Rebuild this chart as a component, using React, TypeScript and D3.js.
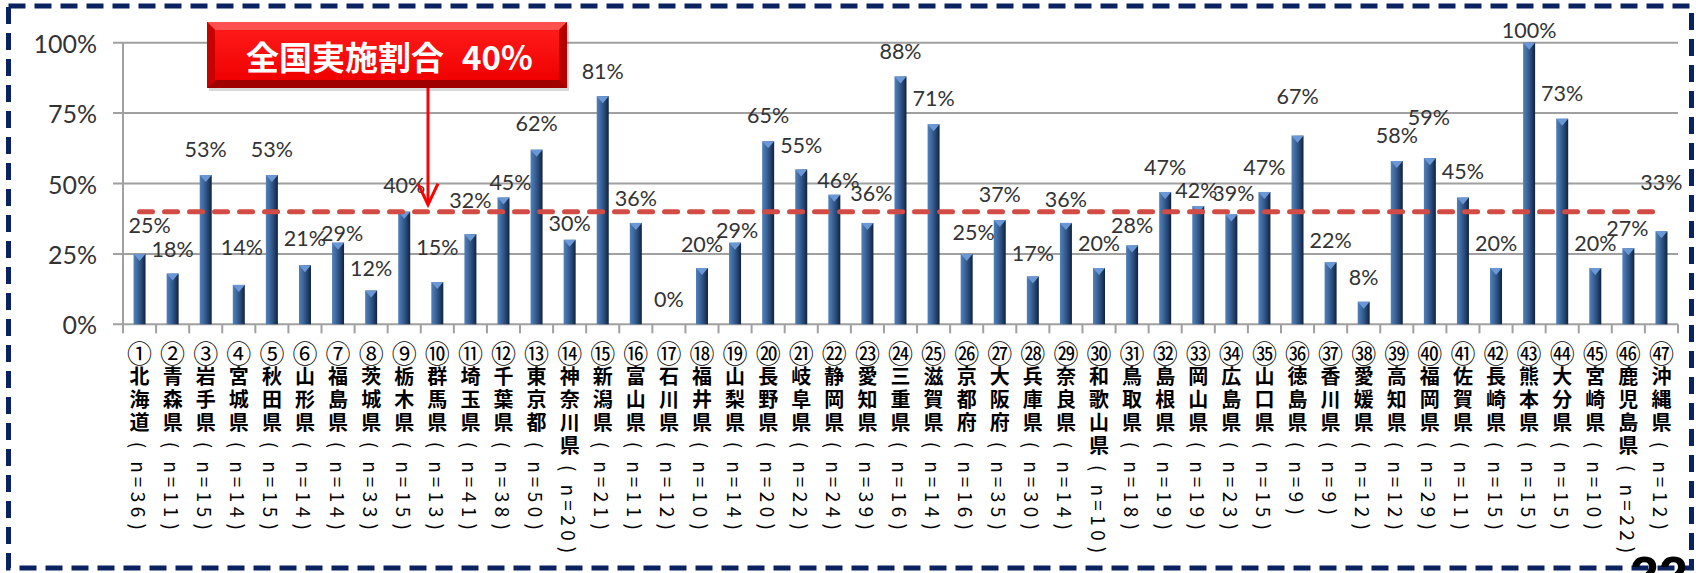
import React from 'react';
import * as d3 from 'd3';

// ---- data ----
const prefectures = ['北海道','青森県','岩手県','宮城県','秋田県','山形県','福島県','茨城県','栃木県','群馬県','埼玉県','千葉県','東京都','神奈川県','新潟県','富山県','石川県','福井県','山梨県','長野県','岐阜県','静岡県','愛知県','三重県','滋賀県','京都府','大阪府','兵庫県','奈良県','和歌山県','鳥取県','島根県','岡山県','広島県','山口県','徳島県','香川県','愛媛県','高知県','福岡県','佐賀県','長崎県','熊本県','大分県','宮崎県','鹿児島県','沖縄県'];
const circledNumbers = Array.from('①②③④⑤⑥⑦⑧⑨⑩⑪⑫⑬⑭⑮⑯⑰⑱⑲⑳㉑㉒㉓㉔㉕㉖㉗㉘㉙㉚㉛㉜㉝㉞㉟㊱㊲㊳㊴㊵㊶㊷㊸㊹㊺㊻㊼');
const sampleSizes = [36,11,15,14,15,14,14,33,15,13,41,38,50,20,21,11,12,10,14,20,22,24,39,16,14,16,35,30,14,10,18,19,19,23,15,9,9,12,12,29,11,15,15,15,10,22,12];
const rates = [25,18,53,14,53,21,29,12,40,15,32,45,62,30,81,36,0,20,29,65,55,46,36,88,71,25,37,17,36,20,28,47,42,39,47,67,22,8,58,59,45,20,100,73,20,27,33];
const yTicks = [0, 25, 50, 75, 100];
const nationalRate = 40;
const calloutTitle = '全国実施割合';
const calloutValue = '40%';
const pageNumber = '22';

// label nudges (layout only): [dx, dy] per category
const labelNudge: [number, number][] = [
  [10,-3],[0,1],[0,0],[3,-12],[0,0],[0,-1],[4,16],[0,3],[0,-1],[0,-9],
  [0,-8],[7,10],[0,-1],[0,9],[0,1],[0,1],[0,1],[0,2],[2,13],[0,0],
  [0,2],[4,11],[4,-4],[0,1],[0,0],[7,4],[0,0],[0,3],[0,2],[0,1],
  [0,6],[0,1],[-2,10],[2,5],[0,1],[0,-14],[0,4],[0,1],[0,0],[-1,-15],
  [0,-1],[0,1],[0,13],[0,0],[0,1],[-1,6],[0,-23],
];

const W = 1696, H = 573;
const X0 = 123, X1 = 1678, Y0 = 324.3, Y100 = 42.7;

export default function App() {
  const idx = prefectures.map((_, i) => i);
  const x = d3.scaleBand<number>().domain(idx).range([X0, X1]).padding(0);
  const y = d3.scaleLinear().domain([0, 100]).range([Y0, Y100]);
  const bw = x.bandwidth();
  const barW = 12;
  const pitch = 23.3;
  const labelTop = 351.7;
  const cjk = "'Noto Sans CJK JP', 'Noto Sans CJK SC', sans-serif";
  const lat = "Lato, 'Open Sans', sans-serif";
  const yLine = y(nationalRate);

  const box = { x: 207, y: 22, w: 360, h: 66 };
  const arrowX = 428;

  return (
    <svg width={W} height={H} style={{ position: 'absolute', left: 0, top: 0, background: '#fff' }}>
      <defs>
        <linearGradient id="barGrad" x1="0" x2="1" y1="0" y2="0">
          <stop offset="0" stopColor="#5080bd" />
          <stop offset="0.3" stopColor="#3f6aa0" />
          <stop offset="0.65" stopColor="#284976" />
          <stop offset="1" stopColor="#11223c" />
        </linearGradient>
        <linearGradient id="boxGrad" x1="0" x2="0" y1="0" y2="1">
          <stop offset="0" stopColor="#ff1a1a" />
          <stop offset="1" stopColor="#f00000" />
        </linearGradient>
      </defs>

      {/* frame */}
      <rect x={8.5} y={6} width={1683} height={562} fill="none" stroke="#0b2260" strokeWidth={5} strokeDasharray="17 9" />

      {/* gridlines */}
      {yTicks.map(t => (
        <g key={t}>
          <line x1={X0 - 10} x2={X1} y1={y(t)} y2={y(t)} stroke="#a0a0a0" strokeWidth={2} />
          <text x={97} y={y(t)} textAnchor="end" dominantBaseline="central" fontFamily={lat} fontSize={25} fill="#333">{t}%</text>
        </g>
      ))}
      <line x1={X0} x2={X0} y1={Y100} y2={Y0} stroke="#a0a0a0" strokeWidth={2} />
      {d3.range(prefectures.length + 1).map(i => {
        const xx = X0 + i * bw;
        return <line key={i} x1={xx} x2={xx} y1={Y0} y2={Y0 + 9} stroke="#a0a0a0" strokeWidth={2} />;
      })}

      {/* bars */}
      {rates.map((v, i) => {
        if (v <= 0) return null;
        const cx = (x(i) as number) + bw / 2;
        const top = y(v);
        return (
          <g key={i}>
            <rect x={cx - barW / 2} y={top} width={barW} height={Y0 - top} fill="url(#barGrad)" />
            <polygon points={`${cx - barW / 2},${top} ${cx + barW / 2},${top} ${cx},${top + 7}`} fill="#6b98d4" />
          </g>
        );
      })}

      {/* national average line */}
      <line x1={X0 + bw / 2} x2={X1 - bw + 8} y1={yLine} y2={yLine} stroke="#d24b45" strokeWidth={5} strokeDasharray="13 12" strokeLinecap="round" />

      {/* value labels */}
      {rates.map((v, i) => {
        const cx = (x(i) as number) + bw / 2;
        const [dx, dy] = labelNudge[i];
        return (
          <text key={i} x={cx + dx} y={y(v) - 26 + dy} textAnchor="middle" dominantBaseline="central" fontFamily={lat} fontSize={21.5} fill="#333">{v}%</text>
        );
      })}

      {/* callout */}
      <g>
        <rect x={box.x + 2} y={box.y + 3} width={box.w} height={box.h} fill="#000" opacity={0.15} />
        <rect x={box.x} y={box.y} width={box.w} height={box.h} fill="#e00000" />
        <polygon points={`${box.x},${box.y} ${box.x + box.w},${box.y} ${box.x + box.w - 8},${box.y + 8} ${box.x + 8},${box.y + 8}`} fill="#ff5050" />
        <polygon points={`${box.x},${box.y + box.h} ${box.x + box.w},${box.y + box.h} ${box.x + box.w - 8},${box.y + box.h - 8} ${box.x + 8},${box.y + box.h - 8}`} fill="#a00000" />
        <polygon points={`${box.x},${box.y} ${box.x + 8},${box.y + 8} ${box.x + 8},${box.y + box.h - 8} ${box.x},${box.y + box.h}`} fill="#c80000" />
        <polygon points={`${box.x + box.w},${box.y} ${box.x + box.w - 8},${box.y + 8} ${box.x + box.w - 8},${box.y + box.h - 8} ${box.x + box.w},${box.y + box.h}`} fill="#b80000" />
        <rect x={box.x + 8} y={box.y + 8} width={box.w - 16} height={box.h - 16} fill="url(#boxGrad)" />
        <text x={246} y={box.y + box.h / 2 + 1} dominantBaseline="central" fontFamily={cjk} fontWeight={700} fontSize={33} fill="#fff">{calloutTitle}</text>
        <text x={462} y={box.y + box.h / 2 + 1} dominantBaseline="central" fontFamily={cjk} fontWeight={700} fontSize={33} fill="#fff">{calloutValue}</text>
      </g>
      <line x1={arrowX} x2={arrowX} y1={box.y + box.h} y2={yLine - 7} stroke="#ff0000" strokeWidth={3} />
      <polyline points={`${arrowX - 10},${yLine - 28} ${arrowX},${yLine - 7} ${arrowX + 10},${yLine - 28}`} fill="none" stroke="#ff0000" strokeWidth={3} />

      {/* category labels (vertical) */}
      {prefectures.map((name, i) => {
        const cx = (x(i) as number) + bw / 2;
        const chars = Array.from(name);
        const half = Array.from(`n=${sampleSizes[i]}`);
        const pOpen = labelTop + (chars.length + 1) * pitch;
        const start = pOpen + 11.7 + 3;
        const pClose = start + half.length * 15 + 7;
        return (
          <g key={i} fontFamily={cjk} fill="#000">
            <text x={cx} y={labelTop} textAnchor="middle" dominantBaseline="central" fontSize={25}>{circledNumbers[i]}</text>
            {chars.map((c, j) => (
              <text key={j} x={cx} y={labelTop + (j + 1) * pitch} textAnchor="middle" dominantBaseline="central" fontSize={20} fontWeight={700}>{c}</text>
            ))}
            <text transform={`translate(${cx},${pOpen}) rotate(90)`} textAnchor="middle" dominantBaseline="central" fontSize={19}>(</text>
            {half.map((c, j) => (
              <text key={'h' + j} transform={`translate(${cx},${start + 7.5 + j * 15}) rotate(90)`} textAnchor="middle" dominantBaseline="central" fontSize={19}>{c}</text>
            ))}
            <text transform={`translate(${cx},${pClose}) rotate(90)`} textAnchor="middle" dominantBaseline="central" fontSize={19}>)</text>
          </g>
        );
      })}

      {/* page number */}
      <text x={1630} y={593} fontFamily="'Liberation Sans', Arial, sans-serif" fontWeight={700} fontSize={52} fill="#000">{pageNumber}</text>
    </svg>
  );
}
